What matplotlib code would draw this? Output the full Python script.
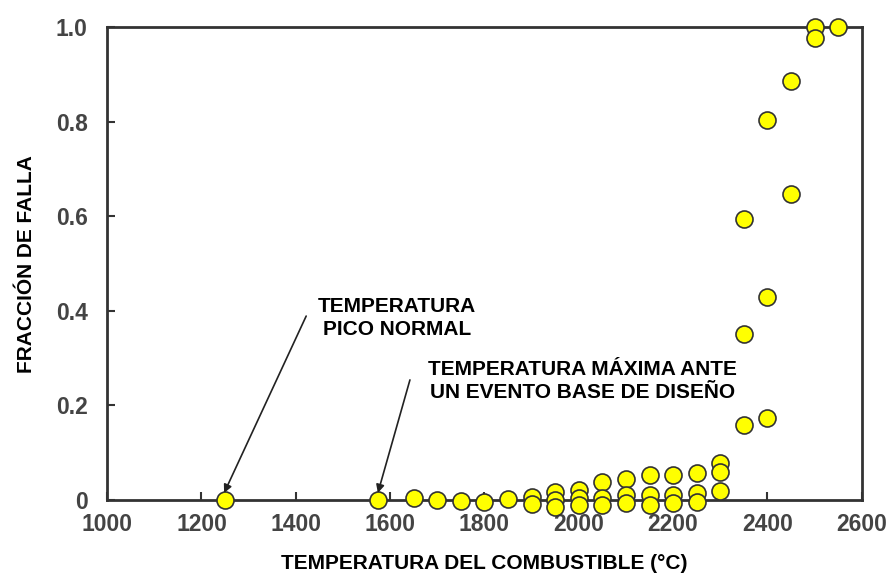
import numpy as np
import matplotlib.pyplot as plt

# temperatura del combustible (C) y fraccion de falla
temp = [1250, 1575, 1650, 1700, 1750, 1800, 1850,
        1900, 1900,
        1950, 1950, 1950,
        2000, 2000, 2000,
        2050, 2050, 2050,
        2100, 2100, 2100,
        2150, 2150, 2150,
        2200, 2200, 2200,
        2250, 2250, 2250,
        2300, 2300, 2300,
        2350, 2350, 2350,
        2400, 2400, 2400,
        2450, 2450,
        2500, 2500, 2550]
falla = [0.0, 0.0, 0.004, 0.0, -0.003, -0.005, 0.002,
         0.006, -0.008,
         0.017, 0.0, -0.014,
         0.021, 0.004, -0.01,
         0.038, 0.004, -0.01,
         0.044, 0.01, -0.006,
         0.053, 0.01, -0.01,
         0.053, 0.01, -0.006,
         0.057, 0.015, -0.004,
         0.078, 0.06, 0.02,
         0.159, 0.351, 0.594,
         0.173, 0.429, 0.803,
         0.647, 0.886,
         1.0, 0.977, 1.0]

xticks = [1000, 1200, 1400, 1600, 1800, 2000, 2200, 2400, 2600]
yticks = [0, 0.2, 0.4, 0.6, 0.8, 1.0]
ylabels = ['0', '0.2', '0.4', '0.6', '0.8', '1.0']

narrow = ['Liberation Sans', 'DejaVu Sans']

fig = plt.figure(figsize=(8.93, 5.77), dpi=100)
ax = fig.add_axes([0.120, 0.1334, 0.845, 0.8196])

ax.scatter(temp, falla, s=150, c='#ffff00', edgecolors='#333333', linewidths=1.2, zorder=3, clip_on=False)

ax.set_xlim(1000, 2600)
ax.set_ylim(0, 1.0)
ax.set_xticks(xticks)
ax.set_yticks(yticks)
ax.set_yticklabels(ylabels)
for lab in ax.get_xticklabels() + ax.get_yticklabels():
    lab.set_family('Liberation Sans')
    lab.set_fontweight('bold')
    lab.set_fontsize(16.5)
    lab.set_color('#444444')
ax.tick_params(axis='both', direction='in', length=6, width=1.5, color='#333333')
ax.tick_params(axis='y', pad=14)
ax.tick_params(axis='x', pad=9)
for sp in ax.spines.values():
    sp.set_linewidth(2)
    sp.set_color('#333333')

ax.set_xlabel('TEMPERATURA DEL COMBUSTIBLE (°C)', family=narrow, fontweight='bold', fontsize=15, labelpad=13)
ax.set_ylabel('FRACCIÓN DE FALLA', family=narrow, fontweight='bold', fontsize=15, labelpad=14)

arrow = dict(arrowstyle='-|>', color='#222222', lw=1.2, mutation_scale=12, shrinkA=0, shrinkB=0)
ax.annotate('', xy=(1248, 0.015), xytext=(1422, 0.389), arrowprops=arrow)
ax.annotate('', xy=(1574, 0.015), xytext=(1642, 0.254), arrowprops=arrow)

ax.text(1615, 0.385, 'TEMPERATURA\nPICO NORMAL', family=narrow, fontweight='bold',
        fontsize=15, ha='center', va='center', linespacing=1.25)
ax.text(2007, 0.252, 'TEMPERATURA MÁXIMA ANTE\nUN EVENTO BASE DE DISEÑO', family=narrow,
        fontweight='bold', fontsize=15, ha='center', va='center', linespacing=1.25)

plt.savefig('out.png', dpi=100)
